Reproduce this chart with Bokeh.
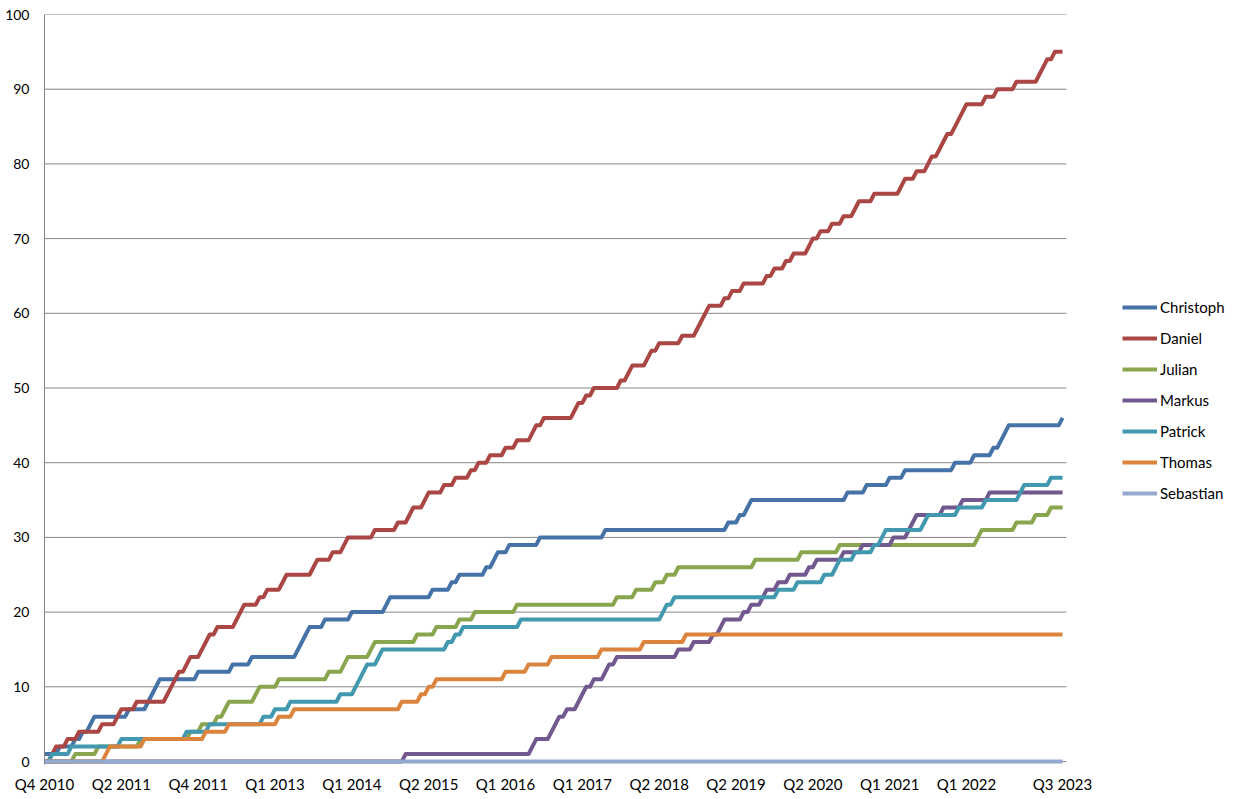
from bokeh.plotting import figure
from bokeh.models import Range1d, FixedTicker, Legend, LegendItem
from bokeh.embed import file_html
from bokeh.resources import INLINE

# ---------------- data ----------------
n_games = 266                      # games 0 .. 265 on the category axis
games = list(range(n_games))

quarter_labels = ["Q4 2010", "Q2 2011", "Q4 2011", "Q1 2013", "Q1 2014", "Q2 2015",
                  "Q1 2016", "Q1 2017", "Q2 2018", "Q2 2019", "Q2 2020", "Q1 2021",
                  "Q1 2022", "Q3 2023"]
label_games = [0, 20, 40, 60, 80, 100, 120, 140, 160, 180, 200, 220, 240, 265]
value_ticks = [0, 10, 20, 30, 40, 50, 60, 70, 80, 90, 100]

players = ["Christoph", "Daniel", "Julian", "Markus", "Patrick", "Thomas", "Sebastian"]
colors = ["#4572A7", "#AA4643", "#89A54E", "#71588F", "#4198AF", "#DB843D", "#93A9CF"]
start_counts = [1, 0, 0, 0, 0, 0, 0]

# game numbers at which each player's running total goes up by one
christoph_wins = [4, 8, 10, 12, 13, 22, 27, 28, 29, 30, 40, 49, 54, 66, 67, 68, 69, 73, 80,
                  89, 90, 101, 106, 108, 115, 117, 118, 121, 129, 146, 178, 181, 183, 184,
                  209, 214, 220, 224, 237, 242, 247, 249, 250, 251, 265]
daniel_wins = [2, 3, 6, 9, 15, 19, 20, 24, 32, 33, 34, 35, 37, 38, 41, 42, 43, 45, 50, 51,
               52, 56, 58, 62, 63, 70, 71, 75, 78, 79, 86, 92, 95, 96, 99, 100, 104, 107,
               111, 113, 116, 120, 123, 127, 128, 130, 138, 139, 141, 143, 150, 152, 153,
               157, 158, 160, 166, 170, 171, 172, 173, 177, 179, 182, 188, 190, 193, 195,
               199, 200, 202, 205, 208, 211, 212, 216, 223, 224, 227, 230, 231, 233, 234,
               235, 237, 238, 239, 240, 245, 248, 253, 259, 260, 261, 263]
julian_wins = [8, 14, 25, 38, 41, 45, 47, 48, 55, 56, 61, 74, 78, 79, 85, 86, 97, 102, 108,
               112, 123, 149, 154, 159, 162, 165, 185, 197, 207, 243, 244, 253, 258, 262]
markus_wins = [94, 127, 128, 132, 133, 134, 136, 139, 140, 141, 143, 146, 147, 149, 165,
               169, 174, 176, 177, 182, 184, 187, 188, 191, 194, 199, 201, 208, 213, 221,
               225, 226, 227, 234, 239, 246]
patrick_wins = [2, 7, 20, 37, 43, 57, 60, 64, 77, 81, 82, 83, 84, 87, 88, 105, 107, 109,
                124, 161, 162, 164, 191, 196, 203, 206, 207, 211, 216, 218, 219, 229, 230,
                238, 245, 254, 255, 262]
thomas_wins = [16, 17, 26, 42, 48, 61, 65, 93, 98, 100, 102, 120, 126, 132, 145, 156, 167]
sebastian_wins = []

all_wins = [christoph_wins, daniel_wins, julian_wins, markus_wins,
            patrick_wins, thomas_wins, sebastian_wins]


def running_total(start, wins):
    return [start + sum(1 for w in wins if w <= g) for g in games]


# ---------------- figure ----------------
FONT = "Lato"
GRID = "#868686"
PLOT_END = n_games            # right edge of the plotting area (in game units)

# the frame is widened to the right so that the legend can sit beside the data area
p = figure(width=1233, height=799, output_backend="svg", toolbar_location=None,
           x_range=Range1d(0, 309.5), y_range=Range1d(-0.4, 100),
           min_border_left=44, min_border_right=0, min_border_top=14,
           min_border_bottom=35)
p.outline_line_color = None
p.background_fill_color = "white"
p.border_fill_color = "white"
p.xgrid.grid_line_color = None
p.ygrid.grid_line_color = None

# horizontal grid lines (incl. the category axis line at 0) over the data area only
p.segment(x0=[0] * len(value_ticks), x1=[PLOT_END] * len(value_ticks),
          y0=value_ticks, y1=value_ticks, line_color=GRID, line_width=1)

p.yaxis.ticker = FixedTicker(ticks=value_ticks)
p.xaxis.ticker = FixedTicker(ticks=label_games)
p.xaxis.major_label_overrides = {g: lab for g, lab in zip(label_games, quarter_labels)}

for ax in (p.xaxis, p.yaxis):
    ax.major_tick_line_color = None
    ax.minor_tick_line_color = None
    ax.major_tick_out = 0
    ax.major_tick_in = 0
    ax.major_label_text_font = FONT
    ax.major_label_text_color = "#000000"
p.xaxis.axis_line_color = None
p.yaxis.axis_line_color = GRID
p.yaxis.axis_line_width = 1
p.xaxis.major_label_text_font_size = "15px"
p.yaxis.major_label_text_font_size = "14px"
p.yaxis.major_label_standoff = 15
p.xaxis.major_label_standoff = 10

renderers = []
for name, col, start, wins in zip(players, colors, start_counts, all_wins):
    r = p.line(games, running_total(start, wins), line_color=col, line_width=4,
               line_join="round")
    renderers.append(r)

legend = Legend(items=[LegendItem(label=n, renderers=[r]) for n, r in zip(players, renderers)],
                location=(1078, 261))
legend.glyph_width = 35
legend.glyph_height = 20
legend.label_height = 20
legend.label_standoff = 3
legend.spacing = 11
legend.padding = 0
legend.margin = 0
legend.border_line_color = None
legend.background_fill_alpha = 0
legend.label_text_font = FONT
legend.label_text_font_size = "15px"
legend.label_text_color = "#000000"
p.add_layout(legend)

open("out.html", "w").write(file_html(p, INLINE))
